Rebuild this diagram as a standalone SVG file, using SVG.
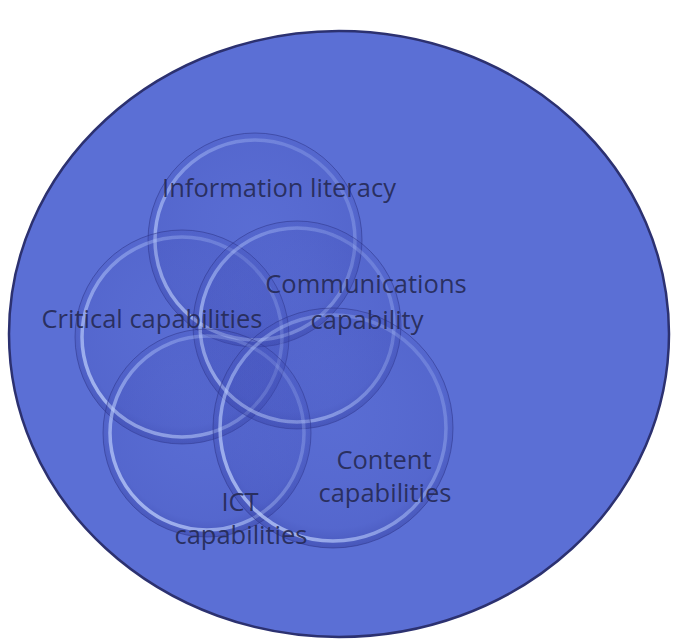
<svg xmlns="http://www.w3.org/2000/svg" width="679" height="640" viewBox="0 0 679 640">
<defs>
<linearGradient id="rim" x1="1" y1="0" x2="0" y2="1">
<stop offset="0" stop-color="#b8ccff" stop-opacity="0.15"/>
<stop offset="0.5" stop-color="#b8ccff" stop-opacity="0.45"/>
<stop offset="1" stop-color="#c8d8ff" stop-opacity="0.8"/>
</linearGradient>
<radialGradient id="glass" cx="0.5" cy="0.45" r="0.55">
<stop offset="0" stop-color="#4a58c2" stop-opacity="0.1"/>
<stop offset="0.85" stop-color="#3a46b0" stop-opacity="0.2"/>
<stop offset="1" stop-color="#2a3290" stop-opacity="0.4"/>
</radialGradient>
<style>
.outer{fill:#5b6fd5;stroke:#2c3170;stroke-width:2.5}
.g{fill:url(#glass);stroke:#2e3488;stroke-opacity:0.55;stroke-width:1}
.r{fill:none;stroke:url(#rim);stroke-width:3.5}
.t{font-family:"Open Sans","Noto Sans",sans-serif;font-size:25.5px;fill:#262a55;fill-opacity:0.92;text-anchor:middle}
</style>
</defs>
<g id="outer"><ellipse class="outer" cx="339" cy="334" rx="330" ry="303"/></g>
<g id="information-literacy">
<circle class="g" cx="255" cy="240" r="107"/>
<circle class="r" cx="255" cy="240" r="100"/>
</g>
<g id="critical-capabilities">
<circle class="g" cx="182" cy="337" r="107"/>
<circle class="r" cx="182" cy="337" r="100"/>
</g>
<g id="communications-capability">
<circle class="g" cx="297" cy="325" r="104"/>
<circle class="r" cx="297" cy="325" r="97"/>
</g>
<g id="ict-capabilities">
<circle class="g" cx="207" cy="433" r="104"/>
<circle class="r" cx="207" cy="433" r="97"/>
</g>
<g id="content-capabilities">
<circle class="g" cx="333" cy="428" r="120"/>
<circle class="r" cx="333" cy="428" r="113"/>
</g>
<g id="labels">
<text class="t" x="279" y="197">Information literacy</text>
<text class="t" x="152" y="328">Critical capabilities</text>
<text class="t" x="366" y="293">Communications</text>
<text class="t" x="367" y="329">capability</text>
<text class="t" x="384" y="469">Content</text>
<text class="t" x="385" y="502">capabilities</text>
<text class="t" x="240" y="511">ICT</text>
<text class="t" x="241" y="544">capabilities</text>
</g>
<g id="connectors"/>
</svg>
